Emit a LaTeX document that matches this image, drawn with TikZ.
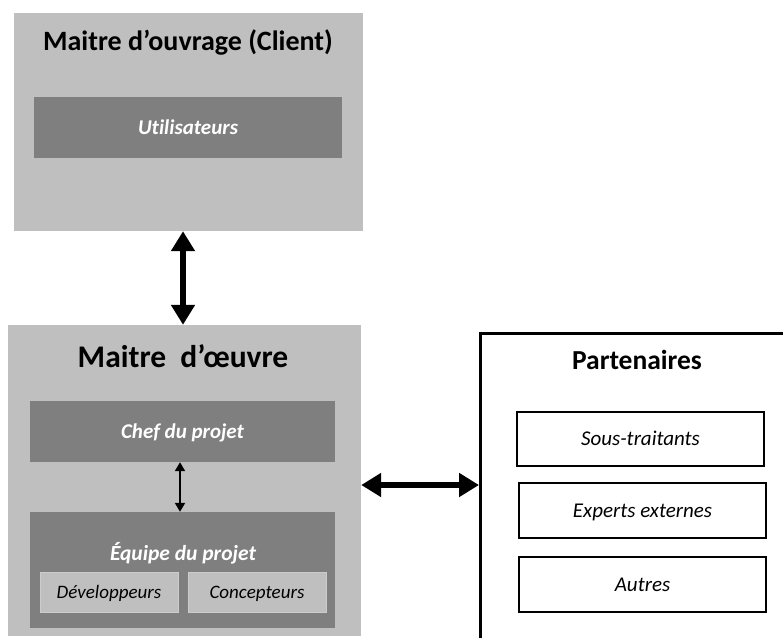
\documentclass[tikz,border=0pt]{standalone}
\usepackage{fontspec}
\setmainfont{Carlito}[Ligatures=NoCommon]
\usetikzlibrary{arrows.meta}
\definecolor{lightbox}{HTML}{BFBFBF}
\definecolor{darkbox}{HTML}{7F7F7F}
\begin{document}
\begin{tikzpicture}[x=1pt,y=-1pt,
  outerbox/.style={fill=lightbox,draw=none,minimum width=#1,inner sep=0pt},
  boxtext/.style={text height=16pt,text depth=2.5pt},
  rolebox/.style={fill=darkbox,draw=none,inner sep=0pt,text=white,boxtext,
    font=\fontsize{21}{25}\selectfont\bfseries\itshape},
  memberbox/.style={fill=lightbox,draw=lightbox!80!white,line width=0.8pt,inner sep=0pt,
    text height=14pt,text depth=2pt,
    minimum width=138pt,minimum height=40pt,font=\fontsize{19}{23}\selectfont\itshape},
  partbox/.style={draw=black,line width=2.5pt,fill=white,inner sep=0pt,boxtext,
    minimum width=247pt,minimum height=54pt,font=\fontsize{21}{25}\selectfont\itshape},
  titletext/.style={anchor=base,inner sep=0pt,font=\fontsize{#1}{#1}\selectfont\bfseries},
  bigarrow/.style={line width=6pt,{Triangle[width=23pt,length=20pt]}-{Triangle[width=23pt,length=20pt]}},
  smallarrow/.style={line width=2pt,{Triangle[width=10pt,length=9pt]}-{Triangle[width=10pt,length=9pt]}}]
\useasboundingbox (0,0) rectangle (783,637);
\clip (0,0) rectangle (783,637);

% client side
\node[outerbox=349pt,minimum height=218pt] (moa) at (188.5,122) {};
\node[titletext=28] (moatitle) at (188,50) {Maitre d’ouvrage (Client)};
\node[rolebox,minimum width=308pt,minimum height=61pt] (users) at (188,127.5) {Utilisateurs};

% contractor side
\node[outerbox=353pt,minimum height=311pt] (moe) at (184.5,480.5) {};
\node[titletext=31.5] (moetitle) at (183,367) {Maitre~~d’œuvre};
\node[rolebox,minimum width=305pt,minimum height=61pt] (chef) at (182.5,431.5) {Chef du projet};
\node[fill=darkbox,inner sep=0pt,minimum width=305pt,minimum height=116pt] (team) at (182.5,570) {};
\node[titletext=21,text=white,font=\fontsize{21.5}{25}\selectfont\bfseries\itshape] (teamlabel) at (183,560) {Équipe du projet};
\node[memberbox] (devs) at (109,592) {Développeurs};
\node[memberbox] (designers) at (257,592) {Concepteurs};

% partners
\node[draw=black,line width=2.5pt,fill=white,inner sep=0pt,minimum width=330pt,minimum height=340pt,anchor=north west] (partners) at (479,332) {};
\node[titletext=27.5] (parttitle) at (637,369) {Partenaires};
\node[partbox] (subcontractors) at (640.5,439) {Sous-traitants};
\node[partbox,minimum height=55pt] (experts) at (642.5,510.5) {Experts externes};
\node[partbox,minimum height=55pt] (others) at (642.5,584.5) {Autres};

% connectors
\draw[bigarrow] (moa.south -| 183,0) -- (moe.north -| 183,0);
\draw[smallarrow] (chef.south -| 180,0) -- (team.north -| 180,0);
\coordinate (linky) at (0,485);
\draw[bigarrow] (moe.east |- linky) -- (partners.west |- linky);
\end{tikzpicture}
\end{document}
